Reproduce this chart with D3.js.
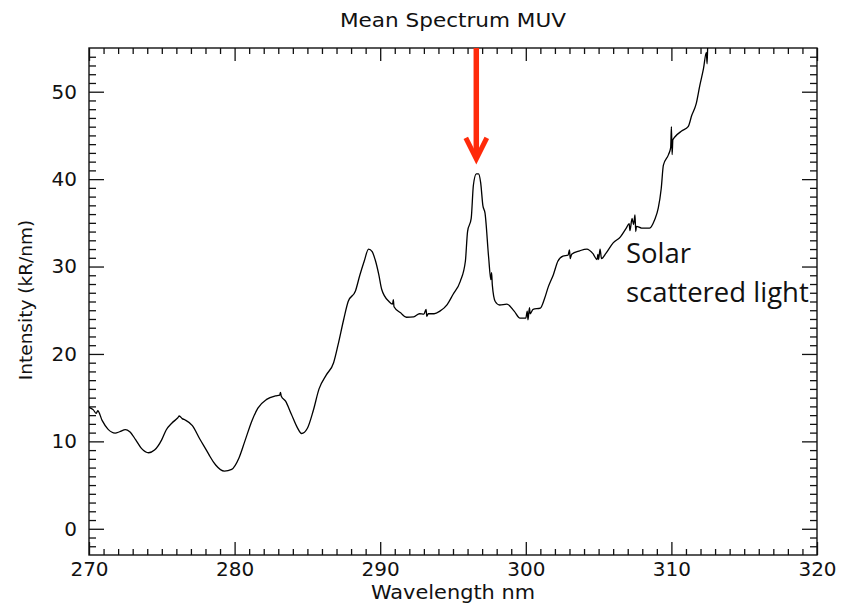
<!DOCTYPE html>
<html>
<head>
<meta charset="utf-8">
<script src="https://cdn.jsdelivr.net/npm/d3@7"></script>
<style>
  html, body { margin: 0; padding: 0; background: #fff; }
  svg { display: block; }
  .axis text { font-family: "DejaVu Sans", sans-serif; font-size: 20px; fill: #111; }
  .axis line { stroke: #111; stroke-width: 1.3; }
  .axis path { display: none; }
</style>
</head>
<body>
<svg id="chart" width="841" height="605"></svg>
<script>
// Mean MUV spectrum: wavelength (nm) and intensity (kR/nm)
const wavelength = [
  270.0, 270.3, 270.5, 270.6, 270.9, 271.3, 271.8, 272.1, 272.5, 272.8,
  273.2, 273.6, 274.1, 274.5, 275.0, 275.3, 275.7, 276.1, 276.2, 276.4,
  276.6, 277.1, 277.6, 278.2, 278.3, 278.7, 279.3, 279.8, 280.3, 280.7,
  281.2, 281.6, 282.2, 282.8, 283.1, 283.15, 283.2, 283.5, 283.9, 284.3,
  284.6, 285.0, 285.4, 285.8, 286.3, 286.8, 287.1, 287.5, 287.8, 288.3,
  288.6, 288.9, 289.2, 289.45, 289.65, 289.9, 290.1, 290.6, 290.85, 290.9,
  290.95, 291.4, 291.8, 292.3, 292.7, 293.0, 293.15, 293.2, 293.3, 293.7,
  294.1, 294.6, 295.0, 295.5, 295.85, 296.0, 296.25, 296.4, 296.6, 296.75,
  296.9, 297.05, 297.2, 297.45, 297.6, 297.65, 297.7, 297.9, 298.2, 298.7,
  299.2, 299.6, 300.0, 300.1, 300.15, 300.25, 300.3, 300.5, 301.0, 301.3,
  301.55, 301.9, 302.2, 302.55, 302.9, 303.0, 303.05, 303.15, 303.7, 304.2,
  304.6, 304.9, 304.95, 305.0, 305.1, 305.2, 305.5, 306.0, 306.5, 306.9,
  307.1, 307.15, 307.3, 307.4, 307.5, 307.55, 307.6, 307.95, 308.5, 308.85,
  309.1, 309.3, 309.45, 309.8, 309.95, 310.0, 310.05, 310.1, 310.25, 310.7,
  311.15, 311.4, 311.7, 311.95, 312.2, 312.4, 312.45, 312.5, 312.6
];
const intensity = [
  13.9, 13.6, 13.2, 13.5, 12.4, 11.4, 10.95, 11.1, 11.35, 11.1,
  10.2, 9.2, 8.7, 9.0, 10.2, 11.3, 12.1, 12.7, 12.9, 12.6,
  12.45, 11.8, 10.3, 8.6, 8.3, 7.3, 6.6, 6.8, 8.1, 10.0,
  12.4, 13.8, 14.8, 15.2, 15.3, 15.6, 15.2, 14.6, 13.1, 11.6,
  10.9, 11.5, 13.5, 16.0, 17.6, 19.0, 21.0, 24.0, 26.0, 27.2,
  29.0, 30.6, 32.0, 31.7, 30.8, 29.1, 27.4, 26.0, 25.7, 26.2,
  25.4, 24.7, 24.2, 24.25, 24.6, 24.55, 25.1, 24.3, 24.6, 24.6,
  24.9, 25.65, 26.8, 28.3, 30.6, 34.0, 35.5, 39.3, 40.6, 40.6,
  39.6, 37.0, 36.1, 31.0, 28.5, 29.3, 27.9, 26.0, 25.6, 25.7,
  24.9, 24.1, 24.1, 24.9, 23.9, 25.3, 24.6, 25.1, 25.25, 26.4,
  27.7, 29.1, 30.6, 31.2, 31.3, 31.9, 30.9, 31.4, 31.8, 32.0,
  31.5, 30.8, 31.4, 30.8, 32.0, 30.9, 31.5, 32.7, 33.4, 34.4,
  34.9, 34.1, 35.5, 34.8, 35.9, 34.0, 34.6, 34.4, 34.4, 35.35,
  36.7, 38.9, 41.6, 42.8, 43.6, 46.0, 42.8, 44.5, 44.85, 45.5,
  46.0, 47.3, 48.6, 50.7, 52.6, 54.5, 53.2, 55.5, 57.0
];

const xMajor = [270, 280, 290, 300, 310, 320];
const yMajor = [0, 10, 20, 30, 40, 50];
const xMinor = d3.range(271, 320, 1).filter(v => v % 10 !== 0);
const yMinor = d3.range(-2, 55, 1).filter(v => v % 10 !== 0);

const titleText = "Mean Spectrum MUV";
const xLabel = "Wavelength nm";
const yLabel = "Intensity (kR/nm)";
const noteLines = ["Solar", "scattered light"];
const markedLine = 296.6;   // wavelength marked by the red arrow
const arrowTip = 42.2;      // intensity where the arrow ends

const margin = { left: 89, right: 24, top: 48, bottom: 50 };
const W = 841, H = 605;

const svg = d3.select("#chart");

const x = d3.scaleLinear().domain([270, 320]).range([margin.left, W - margin.right]);
const y = d3.scaleLinear().domain([-3, 55]).range([H - margin.bottom, margin.top]);

const [x0, x1] = x.range();
const [y0, y1] = y.range();

svg.append("defs").append("clipPath").attr("id", "plot-clip")
  .append("rect")
  .attr("x", x0).attr("y", y1)
  .attr("width", x1 - x0).attr("height", y0 - y1);

// Axes: major and minor ticks on all four sides, pointing inward
function addAxis(axisFn, scale, vals, size, translate, labels, pad) {
  return svg.append("g")
    .attr("class", "axis")
    .attr("transform", translate)
    .call(axisFn(scale).tickValues(vals).tickSizeInner(-size).tickSizeOuter(0)
      .tickPadding(pad).tickFormat(labels ? d3.format("d") : ""));
}

addAxis(d3.axisBottom, x, xMajor, 13, `translate(0,${y0})`, true, 7);
addAxis(d3.axisBottom, x, xMinor, 6, `translate(0,${y0})`, false, 0);
addAxis(d3.axisTop, x, xMajor, 13, `translate(0,${y1})`, false, 0);
addAxis(d3.axisTop, x, xMinor, 6, `translate(0,${y1})`, false, 0);
addAxis(d3.axisLeft, y, yMajor, 15, `translate(${x0},0)`, true, 12);
addAxis(d3.axisLeft, y, yMinor, 7, `translate(${x0},0)`, false, 0);
addAxis(d3.axisRight, y, yMajor, 15, `translate(${x1},0)`, false, 0);
addAxis(d3.axisRight, y, yMinor, 7, `translate(${x1},0)`, false, 0);

// Frame
svg.append("rect")
  .attr("x", x0).attr("y", y1)
  .attr("width", x1 - x0).attr("height", y0 - y1)
  .attr("fill", "none").attr("stroke", "#111").attr("stroke-width", 1.4);

// Spectrum
const pts = wavelength.map((w, i) => [w, intensity[i]]);
const line = d3.line().curve(d3.curveMonotoneX).x(d => x(d[0])).y(d => y(d[1]));
svg.append("path")
  .datum(pts)
  .attr("clip-path", "url(#plot-clip)")
  .attr("d", line)
  .attr("fill", "none")
  .attr("stroke", "#000")
  .attr("stroke-width", 1.3)
  .attr("stroke-linejoin", "round");

// Red arrow marking the emission line
const ax = x(markedLine);
const tipY = y(arrowTip);
const red = "#ff2a0a";
svg.append("line")
  .attr("x1", ax).attr("x2", ax)
  .attr("y1", y1).attr("y2", tipY - 3)
  .attr("stroke", red).attr("stroke-width", 5.5);
svg.append("path")
  .attr("d", `M${ax - 10.5},${tipY - 22} L${ax},${tipY - 1} L${ax + 10.5},${tipY - 22}`)
  .attr("fill", "none")
  .attr("stroke", red).attr("stroke-width", 5)
  .attr("stroke-linejoin", "miter");

// Titles
svg.append("text")
  .attr("x", 453).attr("y", 27)
  .attr("text-anchor", "middle")
  .attr("font-family", "DejaVu Sans, sans-serif")
  .attr("font-size", 19)
  .attr("textLength", 226).attr("lengthAdjust", "spacingAndGlyphs")
  .attr("fill", "#111")
  .text(titleText);

svg.append("text")
  .attr("x", 453).attr("y", 599)
  .attr("text-anchor", "middle")
  .attr("font-family", "DejaVu Sans, sans-serif")
  .attr("font-size", 19)
  .attr("textLength", 164).attr("lengthAdjust", "spacingAndGlyphs")
  .attr("fill", "#111")
  .text(xLabel);

svg.append("text")
  .attr("transform", "translate(32,300) rotate(-90)")
  .attr("text-anchor", "middle")
  .attr("font-family", "DejaVu Sans, sans-serif")
  .attr("font-size", 18.5)
  .attr("fill", "#111")
  .text(yLabel);

// Annotation
svg.append("g")
  .selectAll("text")
  .data(noteLines)
  .join("text")
  .attr("x", 626)
  .attr("y", (d, i) => 263 + i * 38.5)
  .attr("font-family", "Open Sans, sans-serif")
  .attr("font-size", 27.5)
  .attr("fill", "#111")
  .text(d => d);
</script>
</body>
</html>
